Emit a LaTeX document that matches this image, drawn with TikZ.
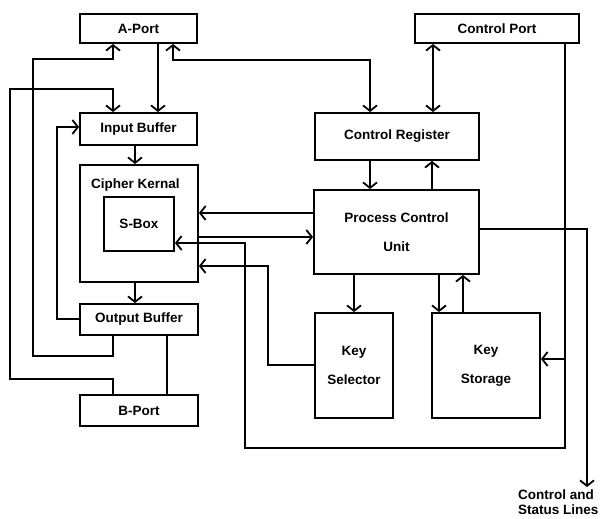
\documentclass[tikz,border=0pt]{standalone}
\usepackage{fontspec}
\setmainfont{Liberation Sans}
\usetikzlibrary{arrows.meta}
\begin{document}
\begin{tikzpicture}[x=1pt,y=-1pt,
  box/.style={draw, line width=1.9pt, inner sep=0pt, align=center,
    font=\fontsize{13.5}{29}\selectfont\bfseries},
  lbl/.style={inner sep=0pt, font=\fontsize{13.5}{15}\selectfont\bfseries},
  conn/.style={line width=1.8pt},
  arr/.style={conn, -{Straight Barb[length=5.5pt,width=14pt]}},
  darr/.style={conn, {Straight Barb[length=5.5pt,width=14pt]}-{Straight Barb[length=5.5pt,width=14pt]}}]
\useasboundingbox (0,0) rectangle (600,519);
% column coordinates
\coordinate (c113) at (113,0);
\coordinate (c135) at (135,0);
\coordinate (c158) at (158,0);
\coordinate (c167) at (167,0);
\coordinate (c173) at (173,0);
\coordinate (c354) at (354,0);
\coordinate (c370) at (370,0);
\coordinate (c432) at (432,0);
\coordinate (c433) at (433,0);
\coordinate (c439) at (439,0);
\coordinate (c463) at (463,0);
\coordinate (c565) at (565,0);
\coordinate (r127) at (0,127);
\coordinate (r213) at (0,213);
\coordinate (r229) at (0,229);
\coordinate (r237) at (0,237);
\coordinate (r243) at (0,243);
\coordinate (r266) at (0,266);
\coordinate (r319) at (0,319);
\coordinate (r359) at (0,359);
\coordinate (r365) at (0,365);
% boxes
\node[box, minimum width=117pt, minimum height=29pt] (aport) at (138.5,28.5) {A-Port};
\node[box, minimum width=164pt, minimum height=29pt] (cport) at (497,28.5) {Control Port};
\node[box, minimum width=117pt, minimum height=32pt] (inbuf) at (138.5,129) {Input Buffer};
\node[box, minimum width=118pt, minimum height=117pt] (cipher) at (139,223.5) {};
\node[lbl] (cipherlbl) at (135.5,185) {Cipher Kernal};
\node[box, minimum width=70pt, minimum height=54pt] (sbox) at (139,224) {S-Box};
\node[box, minimum width=118pt, minimum height=31pt] (outbuf) at (139,319.5) {Output Buffer};
\node[box, minimum width=118pt, minimum height=31pt] (bport) at (139,410.5) {B-Port};
\node[box, minimum width=164pt, minimum height=47pt] (creg) at (397,136.5) {Control Register};
\node[box, minimum width=165pt, minimum height=84pt] (pcu) at (396.5,232) {Process Control\\Unit};
\node[box, minimum width=78pt, minimum height=105pt] (ksel) at (354,365.5) {Key\\Selector};
\node[box, minimum width=108pt, minimum height=105pt] (ksto) at (486,365.5) {Key\\Storage};
\node[lbl, anchor=north west, align=left] (csl) at (518,490) {Control and\\Status Lines};
\coordinate (cslend) at (587,487);
% connectors
\draw[arr] (aport.south -| c158) -- (inbuf.north -| c158);
\draw[arr] (outbuf.south -| c113) -- (113,356) -- (33,356) -- (33,59) -- (113,59) -- (aport.south -| c113);
\draw[darr] (aport.south -| c173) -- (173,60) -- (370,60) -- (creg.north -| c370);
\draw[arr] (bport.north -| c113) -- (113,379) -- (10,379) -- (10,89) -- (113,89) -- (inbuf.north -| c113);
\draw[arr] (outbuf.west |- r319) -- (57,319) -- (57,127) -- (inbuf.west |- r127);
\draw[arr] (inbuf.south -| c135) -- (cipher.north -| c135);
\draw[arr] (cipher.south -| c135) -- (outbuf.north -| c135);
\draw[arr] (pcu.west |- r213) -- (cipher.east |- r213);
\draw[arr] (cipher.east |- r237) -- (pcu.west |- r237);
\draw[arr] (cport.south -| c565) -- (565,448) -- (245,448) -- (245,243) -- (sbox.east |- r243);
\draw[arr] (565,359) -- (ksto.east |- r359);
\draw[arr] (pcu.east |- r229) -- (587,229) -- (cslend);
\draw[arr] (ksel.west |- r365) -- (268,365) -- (268,266) -- (cipher.east |- r266);
\draw[arr] (pcu.south -| c354) -- (ksel.north -| c354);
\draw[arr] (pcu.south -| c439) -- (ksto.north -| c439);
\draw[arr] (ksto.north -| c463) -- (pcu.south -| c463);
\draw[arr] (creg.south -| c370) -- (pcu.north -| c370);
\draw[arr] (pcu.north -| c432) -- (creg.south -| c432);
\draw[darr] (cport.south -| c433) -- (creg.north -| c433);
\draw[conn] (outbuf.south -| c167) -- (bport.north -| c167);
\end{tikzpicture}
\end{document}
